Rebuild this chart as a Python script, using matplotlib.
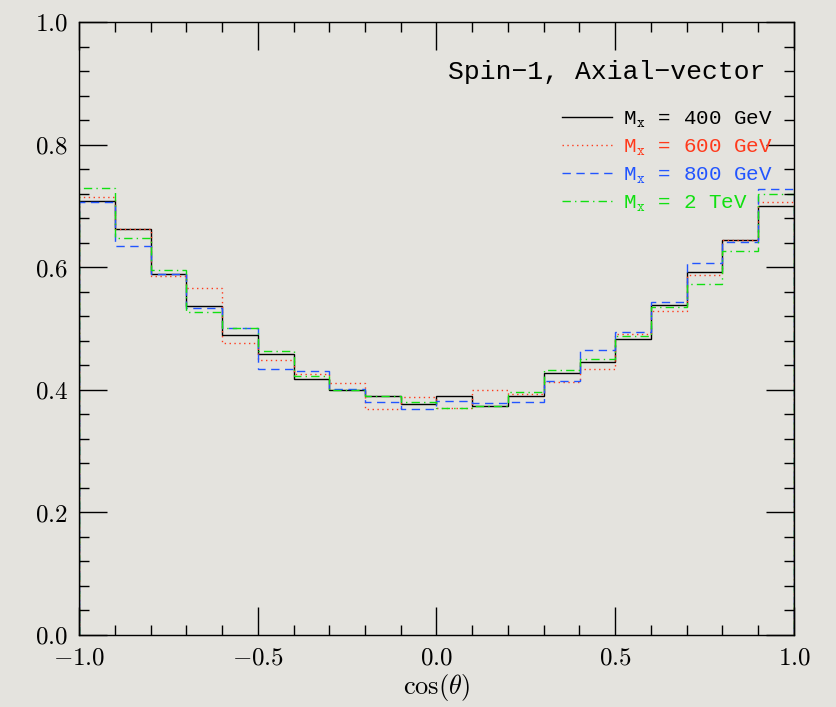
import numpy as np
import matplotlib
matplotlib.use('Agg')
import matplotlib.pyplot as plt
from matplotlib.ticker import MultipleLocator, FuncFormatter

# bin edges in cos(theta)
edges = np.linspace(-1.0, 1.0, 21)

# normalised distributions, one value per bin
m400 = [0.708, 0.663, 0.589, 0.537, 0.490, 0.458, 0.417, 0.400, 0.390, 0.377,
        0.390, 0.373, 0.390, 0.427, 0.446, 0.483, 0.538, 0.592, 0.644, 0.700]
m600 = [0.715, 0.663, 0.586, 0.566, 0.476, 0.449, 0.425, 0.411, 0.369, 0.388,
        0.370, 0.400, 0.393, 0.412, 0.434, 0.491, 0.529, 0.588, 0.644, 0.706]
m800 = [0.706, 0.635, 0.589, 0.533, 0.501, 0.434, 0.430, 0.402, 0.380, 0.368,
        0.381, 0.379, 0.380, 0.414, 0.465, 0.494, 0.543, 0.607, 0.641, 0.728]
m2tev = [0.730, 0.648, 0.595, 0.527, 0.501, 0.464, 0.423, 0.400, 0.390, 0.380,
         0.370, 0.373, 0.396, 0.433, 0.451, 0.488, 0.535, 0.573, 0.626, 0.719]

labels = [r'M$_\mathtt{x}$ = 400 GeV', r'M$_\mathtt{x}$ = 600 GeV',
          r'M$_\mathtt{x}$ = 800 GeV', r'M$_\mathtt{x}$ = 2 TeV']
colors = ['#000000', '#ff3a1c', '#2255ff', '#11e011']
styles = ['-', (0, (1, 2.5)), (0, (6, 4)), (0, (6, 3, 1, 3))]

plt.rcParams.update({
    'mathtext.fontset': 'cm',
    'font.family': 'DejaVu Serif',
})

bg = '#e4e3de'
fig = plt.figure(figsize=(8.37, 7.07), dpi=100, facecolor=bg)
ax = fig.add_axes([79 / 837, 72 / 707, 715 / 837, 613 / 707])
ax.set_facecolor(bg)

for vals, lab, col, ls in zip([m400, m600, m800, m2tev], labels, colors, styles):
    ax.stairs(vals, edges, baseline=0, color=col, linestyle=ls, linewidth=1.0, label=lab)

ax.set_xlim(-1, 1)
ax.set_ylim(0, 1)
ax.xaxis.set_major_locator(MultipleLocator(0.5))
ax.xaxis.set_minor_locator(MultipleLocator(0.1))
ax.yaxis.set_major_locator(MultipleLocator(0.2))
ax.yaxis.set_minor_locator(MultipleLocator(0.04))
fmt = FuncFormatter(lambda v, p: r'$%.1f$' % v)
ax.xaxis.set_major_formatter(fmt)
ax.yaxis.set_major_formatter(fmt)
ax.tick_params(which='both', direction='in', top=True, right=True, width=1.0, labelsize=18)
ax.tick_params(which='major', length=20, pad=8)
ax.tick_params(which='minor', length=7.5)
for s in ax.spines.values():
    s.set_linewidth(1.0)

ax.set_xlabel(r'$\cos(\theta)$', fontsize=19, labelpad=2)

ax.text(0.96, 0.918, 'Spin\u22121, Axial\u2212vector', transform=ax.transAxes,
        ha='right', va='center', fontsize=19, family='Liberation Mono')

leg = ax.legend(loc='upper right', bbox_to_anchor=(0.996, 0.888), frameon=False,
                prop={'family': 'Liberation Mono', 'size': 15},
                handlelength=2.4, handletextpad=0.5, labelspacing=0.36,
                labelcolor='linecolor')

fig.savefig('out.png', dpi=100, facecolor=bg)
